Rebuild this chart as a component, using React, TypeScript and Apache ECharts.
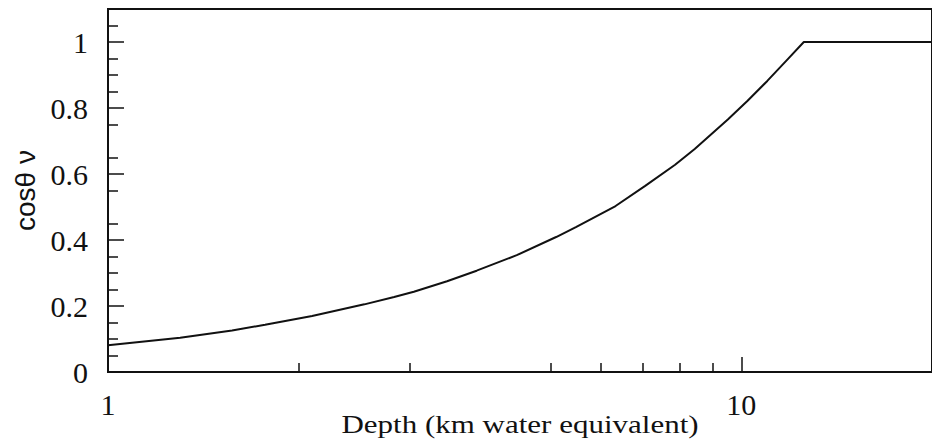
import React, { useEffect, useRef } from "react";
import * as echarts from "echarts";

// Depth in km water equivalent vs. cos(theta_nu) threshold
const depthKm = [1, 1.3, 1.57, 1.77, 2.1, 2.54, 2.83, 3.04, 3.43, 3.82, 4.42, 5.1, 5.48, 6.33, 7.05, 7.86, 8.44, 9.52, 10.23, 10.99, 11.81, 12.55, 20];
const cosTheta = [0.081, 0.104, 0.126, 0.143, 0.17, 0.205, 0.227, 0.243, 0.275, 0.307, 0.354, 0.409, 0.439, 0.503, 0.564, 0.628, 0.676, 0.765, 0.822, 0.882, 0.946, 1.0, 1.0];

const xLabelValues = [1, 10];
const xMinorTicks = [2, 3, 5, 6, 7, 8, 9];
const xMajorTicks = [10];
const yLabelValues = [0, 0.2, 0.4, 0.6, 0.8, 1];
const yMinorTicks = [0.05, 0.1, 0.15, 0.25, 0.3, 0.35, 0.45, 0.55, 0.65, 0.75, 0.85, 0.9, 0.95, 1.05];

const SERIF = '"Liberation Serif", "Times New Roman", serif';
const SANS = '"Liberation Sans", Arial, sans-serif';
const INK = "#111";

export default function App() {
  const ref = useRef<HTMLDivElement>(null);

  useEffect(() => {
    if (!ref.current) return;
    const chart = echarts.init(ref.current, null, { renderer: "svg" });

    const logAxisBase = {
      type: "log" as const,
      logBase: 10,
      min: 1,
      max: 20,
      gridIndex: 0,
      position: "bottom" as const,
      splitLine: { show: false },
      minorSplitLine: { show: false },
    };
    const yAxisBase = {
      type: "value" as const,
      min: 0,
      max: 1.1,
      gridIndex: 0,
      position: "left" as const,
      splitLine: { show: false },
    };

    chart.setOption({
      animation: false,
      backgroundColor: "#fff",
      grid: {
        left: 108,
        top: 9,
        width: 831,
        height: 363,
        show: true,
        borderColor: INK,
        borderWidth: 2,
        backgroundColor: "transparent",
      },
      xAxis: [
        {
          ...logAxisBase,
          axisLine: { show: true, lineStyle: { color: INK, width: 2 } },
          axisTick: {
            show: true,
            inside: true,
            length: 9,
            customValues: xMinorTicks,
            lineStyle: { color: INK, width: 1.5 },
          },
          axisLabel: {
            show: true,
            customValues: xLabelValues,
            margin: 17,
            fontFamily: SERIF,
            fontSize: 30,
            color: INK,
            formatter: (v: number) => String(Math.round(v)),
          },
        },
        {
          ...logAxisBase,
          axisLine: { show: false },
          axisLabel: { show: false },
          axisTick: {
            show: true,
            inside: true,
            length: 15,
            customValues: xMajorTicks,
            lineStyle: { color: INK, width: 1.5 },
          },
        },
      ],
      yAxis: [
        {
          ...yAxisBase,
          name: "cosθ ν",
          nameLocation: "middle",
          nameGap: 68,
          nameTextStyle: { fontFamily: SANS, fontSize: 28, color: INK },
          axisLine: { show: true, lineStyle: { color: INK, width: 2 } },
          axisTick: {
            show: true,
            inside: true,
            length: 16,
            customValues: yLabelValues,
            lineStyle: { color: INK, width: 1.5 },
          },
          axisLabel: {
            show: true,
            customValues: yLabelValues,
            margin: 20,
            fontFamily: SERIF,
            fontSize: 30,
            color: INK,
            formatter: (v: number) => String(Math.round(v * 10) / 10),
          },
        },
        {
          ...yAxisBase,
          axisLine: { show: false },
          axisLabel: { show: false },
          axisTick: {
            show: true,
            inside: true,
            length: 10,
            customValues: yMinorTicks,
            lineStyle: { color: INK, width: 1.5 },
          },
        },
      ],
      graphic: [
        {
          type: "text",
          x: 520,
          y: 437,
          scaleX: 1.24,
          style: {
            text: "Depth (km water equivalent)",
            font: `25px ${SERIF}`,
            textAlign: "center",
            textVerticalAlign: "bottom",
            fill: INK,
          },
        },
      ],
      series: [
        {
          type: "line",
          xAxisIndex: 0,
          yAxisIndex: 0,
          data: depthKm.map((d, i) => [d, cosTheta[i]]),
          showSymbol: false,
          symbol: "none",
          lineStyle: { color: INK, width: 2 },
          silent: true,
        },
      ],
    });

    return () => chart.dispose();
  }, []);

  return (
    <div
      ref={ref}
      style={{ position: "absolute", left: 0, top: 0, width: 932, height: 441, background: "#fff" }}
    />
  );
}
